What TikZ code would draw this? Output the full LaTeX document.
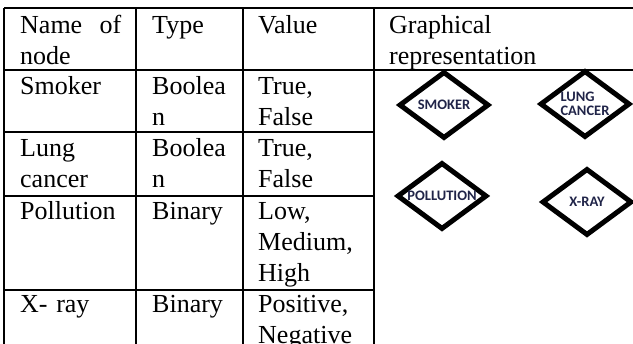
\documentclass[tikz,border=0pt]{standalone}
\usepackage{fontspec}
\setmainfont{Liberation Serif}
\newfontfamily\varfont{Carlito}
\usetikzlibrary{shapes.geometric}
\definecolor{varcol}{RGB}{32,36,72}

\begin{document}
\begin{tikzpicture}[x=1pt,y=-1pt,
    cell/.style={anchor=base west, inner sep=0pt, align=left, text width=#1,
      font=\fontsize{26}{31}\selectfont},
    cell/.default=110pt,
    var/.style={diamond, draw, line width=5pt, inner sep=0pt,
      minimum width=90pt, minimum height=67pt},
    varname/.style={font=\varfont\bfseries\fontsize{14.5}{13.5}\selectfont,
      text=varcol, align=left, inner sep=0pt}]
  \useasboundingbox (0,0) rectangle (633,344);

  % grid
  \draw[line width=1.6pt] (4,8) -- (640,8);
  \draw[line width=1.6pt] (4,70) -- (640,70);
  \draw[line width=1.6pt] (4,132) -- (374,132);
  \draw[line width=1.6pt] (4,196) -- (374,196);
  \draw[line width=1.6pt] (4,290) -- (374,290);
  \draw[line width=1.6pt] (4,8) -- (4,350);
  \draw[line width=1.6pt] (136,8) -- (136,350);
  \draw[line width=1.6pt] (243,8) -- (243,350);
  \draw[line width=1.6pt] (374,8) -- (374,350);

  % header
  \node[cell=101pt] (name) at (20,34) {Name\hfill of\\node};
  \node[cell=85pt] (type) at (152,34) {Type};
  \node[cell] (value) at (258,34) {Value};
  \node[cell=230pt] (graph) at (389,34) {Graphical\\representation};

  % rows
  \node[cell=101pt] (n1) at (20,95) {Smoker};
  \node[cell=85pt] (t1) at (152,95) {Boolea\\n};
  \node[cell] (v1) at (258,95) {True,\\False};

  \node[cell=101pt] (n2) at (20,157) {Lung\\cancer};
  \node[cell=85pt] (t2) at (152,157) {Boolea\\n};
  \node[cell] (v2) at (258,157) {True,\\False};

  \node[cell=101pt] (n3) at (20,220) {Pollution};
  \node[cell=85pt] (t3) at (152,220) {Binary};
  \node[cell] (v3) at (258,220) {Low,\\Medium,\\High};

  \node[cell=101pt] (n4) at (20,313) {X- ray};
  \node[cell=85pt] (t4) at (152,313) {Binary};
  \node[cell] (v4) at (258,313) {Positive,\\Negative};

  % graphical nodes
  \node[var] (smoker) at (444,105) {};
  \node[var] (lung) at (585,104) {};
  \node[var] (pollution) at (442,196) {};
  \node[var] (xray) at (587,202) {};
  \node[varname] at (smoker) {SMOKER};
  \node[varname] at (lung) {LUNG\\CANCER};
  \node[varname] at (pollution) {POLLUTION};
  \node[varname] at (xray) {X-RAY};
\end{tikzpicture}
\end{document}
